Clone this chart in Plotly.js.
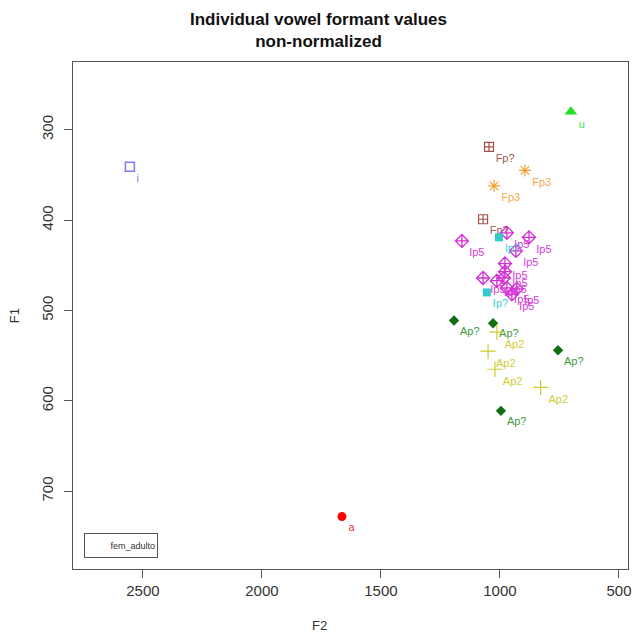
<!DOCTYPE html>
<html>
<head>
<meta charset="utf-8">
<script src="https://cdn.plot.ly/plotly-3.0.1.min.js"></script>
<style>
  html, body { margin: 0; padding: 0; background: #ffffff; }
  #chart { width: 637px; height: 640px; }
</style>
</head>
<body>
<div id="chart"></div>
<script>
// Vowel categories with their F2 / F1 measurements (Hz)
const iF2 = [2555], iF1 = [341];
const uF2 = [702], uF1 = [280];
const aF2 = [1664], aF1 = [728];
const fpqF2 = [1046, 1071], fpqF1 = [319, 399];
const fp3F2 = [895, 1025], fp3F1 = [345, 362];
const ipqF2 = [1004, 1055], ipqF1 = [419, 480];
const ip5F2 = [1160, 971, 878, 933, 979, 979, 1071, 1013, 983, 971, 929, 950];
const ip5F1 = [423, 414, 419, 434, 448, 457, 464, 467, 464, 475, 476, 482];
const apqF2 = [1193, 1029, 756, 996], apqF1 = [511, 514, 544, 611];
const ap2F2 = [1013, 1050, 1021, 829], ap2F1 = [524, 545, 565, 585];

const xTicks = [2500, 2000, 1500, 1000, 500];
const yTicks = [300, 400, 500, 600, 700];

function group(f2, f1, label, symbol, color, textColor, size, lineWidth) {
  return {
    type: 'scatter',
    mode: 'markers+text',
    x: f2,
    y: f1,
    text: f2.map(() => label),
    textposition: 'bottom right',
    textfont: { family: 'Liberation Sans, Arial, sans-serif', size: 11, color: textColor },
    marker: { symbol: symbol, size: size, color: color, line: { color: color, width: lineWidth } },
    showlegend: false,
    hoverinfo: 'x+y+text'
  };
}

const traces = [
  group(iF2, iF1, 'i', 'square-open', '#7c7cf2', '#7c7cf2', 9, 1.5),
  group(uF2, uF1, 'u', 'triangle-up', '#22dd22', '#33dd55', 11, 0),
  group(aF2, aF1, 'a', 'circle', '#ff0000', '#ee3333', 9, 0),
  group(fpqF2, fpqF1, 'Fp?', 'square-cross-open', '#a5504a', '#a25a55', 9, 1.2),
  group(fp3F2, fp3F1, 'Fp3', 'asterisk-open', '#f5a030', '#f5aa45', 10, 1.2),
  group(ip5F2, ip5F1, 'Ip5', 'diamond-cross-open', '#d42fd4', '#d63ad6', 10, 1.3),
  group(ipqF2, ipqF1, 'Ip?', 'square', '#30cccc', '#40d0d0', 8, 0),
  group(apqF2, apqF1, 'Ap?', 'diamond', '#126e12', '#3d9a3d', 8, 0),
  group(ap2F2, ap2F1, 'Ap2', 'cross-thin-open', '#d2cc30', '#d2cc35', 11, 1.2)
];

const axisCommon = {
  showgrid: false,
  zeroline: false,
  showline: true,
  mirror: true,
  linecolor: '#555555',
  linewidth: 1,
  ticks: 'outside',
  ticklen: 8,
  tickcolor: '#555555',
  tickfont: { family: 'Liberation Sans, Arial, sans-serif', size: 15, color: '#333333' }
};

const layout = {
  width: 637,
  height: 640,
  margin: { l: 73, r: 9, t: 62, b: 71 },
  paper_bgcolor: '#ffffff',
  plot_bgcolor: '#ffffff',
  title: {
    text: '<b>Individual vowel formant values</b><br><b>non-normalized</b>',
    font: { family: 'Liberation Sans, Arial, sans-serif', size: 17, color: '#111111' },
    x: 0.5,
    xref: 'container',
    xanchor: 'center',
    y: 0.961,
    yref: 'container',
    yanchor: 'middle'
  },
  xaxis: Object.assign({}, axisCommon, {
    range: [2794, 462],
    tickvals: xTicks,
    ticktext: xTicks.map(String)
  }),
  yaxis: Object.assign({}, axisCommon, {
    range: [786, 225],
    tickvals: yTicks,
    ticktext: yTicks.map(String),
    tickangle: -90,
    ticklabelstandoff: 5
  }),
  annotations: [
    {
      text: 'F2', xref: 'paper', yref: 'paper', x: 0.445, y: -0.112,
      xanchor: 'center', yanchor: 'middle', showarrow: false,
      font: { family: 'Liberation Sans, Arial, sans-serif', size: 13, color: '#333333' }
    },
    {
      text: 'F1', xref: 'paper', yref: 'paper', x: -0.105, y: 0.5,
      xanchor: 'center', yanchor: 'middle', showarrow: false, textangle: -90,
      font: { family: 'Liberation Sans, Arial, sans-serif', size: 13, color: '#333333' }
    },
    {
      text: 'fem_adulto', xref: 'paper', yref: 'paper', x: 0.0198, y: 0.071,
      xanchor: 'left', yanchor: 'top', showarrow: false, align: 'right',
      width: 68, height: 19, borderpad: 2, borderwidth: 1, bordercolor: '#555555',
      font: { family: 'Liberation Sans, Arial, sans-serif', size: 9, color: '#333333' }
    }
  ]
};

Plotly.newPlot('chart', traces, layout, { displayModeBar: false, staticPlot: true });
</script>
</body>
</html>
